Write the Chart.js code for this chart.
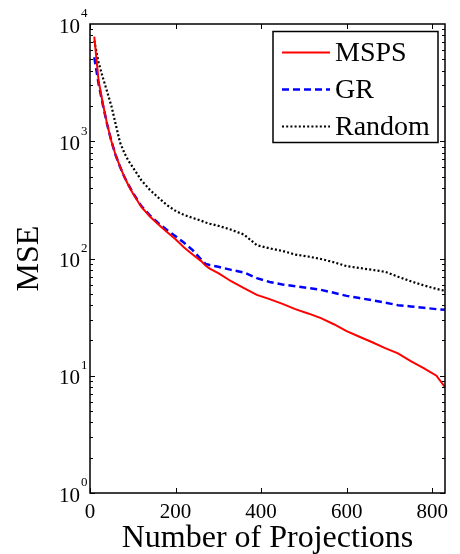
<!DOCTYPE html>
<html>
<head>
<meta charset="utf-8">
<script src="https://cdn.jsdelivr.net/npm/chart.js@4/dist/chart.umd.min.js"></script>
<style>
  html, body { margin: 0; padding: 0; background: #fff; }
  #wrap { width: 460px; height: 554px; }
</style>
</head>
<body>
<div id="wrap"><canvas id="mseChart"></canvas></div>
<script>
// number of projections (x) and MSE
var projections = [10, 20, 30, 40, 50, 60, 70, 80, 90, 100, 120, 140, 160, 180, 200, 220, 240, 260, 270, 280, 300,
  330, 360, 390, 420, 450, 480, 510, 540, 570, 600, 630, 660, 690, 720, 750, 780, 810, 830];
var mspsMse = [7800, 3300, 2100, 1400, 1000, 760, 610, 500, 420, 360, 275, 228, 195, 168, 146, 124, 108, 95, 87, 82, 75,
  64, 56, 49, 45, 41, 37, 34, 31, 27.5, 24, 21.5, 19.3, 17.2, 15.5, 13.3, 11.6, 10, 8];
var grMse = [5200, 3100, 2050, 1400, 1000, 760, 610, 500, 425, 365, 280, 233, 200, 175, 155, 136, 118, 98, 90, 88, 85,
  80, 76, 68, 63, 60, 58, 56, 54, 51, 48, 46, 44, 42, 40, 39, 38, 37, 36.5];
var randomMse = [7200, 4700, 3500, 2650, 2000, 1400, 980, 800, 680, 600, 465, 385, 330, 285, 255, 235, 222, 210, 203, 198, 190,
  176, 160, 130, 122, 116, 108, 104, 99, 93, 86, 83, 80, 77, 70, 64, 59, 55, 53];
var xTicks = [0, 200, 400, 600, 800];
var yTicks = [1, 10, 100, 1000, 10000];

var FONT = "'Liberation Serif', 'Times New Roman', serif";

function toPoints(values) {
  return projections.map(function (x, i) { return { x: x, y: values[i] }; });
}

// MATLAB style box, inward ticks, 10^n labels and boxed legend
var matlabAxes = {
  id: "matlabAxes",
  afterDraw: function (chart) {
    var ctx = chart.ctx;
    var a = chart.chartArea;
    var xs = chart.scales.x;
    var ys = chart.scales.y;
    ctx.save();
    ctx.strokeStyle = "#000";
    ctx.lineWidth = 1.5;
    ctx.strokeRect(a.left, a.top, a.right - a.left, a.bottom - a.top);

    ctx.lineWidth = 1;
    ctx.beginPath();
    xTicks.forEach(function (v) {
      var px = Math.round(xs.getPixelForValue(v)) + 0.5;
      ctx.moveTo(px, a.bottom); ctx.lineTo(px, a.bottom - 5);
      ctx.moveTo(px, a.top); ctx.lineTo(px, a.top + 5);
    });
    for (var k = 0; k < 4; k++) {
      for (var m = 1; m <= 9; m++) {
        var py = Math.round(ys.getPixelForValue(m * Math.pow(10, k))) + 0.5;
        var len = m === 1 ? 5 : 3;
        ctx.moveTo(a.left, py); ctx.lineTo(a.left + len, py);
        ctx.moveTo(a.right, py); ctx.lineTo(a.right - len, py);
      }
    }
    ctx.stroke();

    // y tick labels 10^n
    ctx.fillStyle = "#000";
    yTicks.forEach(function (v) {
      var py = ys.getPixelForValue(v);
      ctx.font = "21px " + FONT;
      ctx.textAlign = "right";
      ctx.textBaseline = "middle";
      ctx.fillText("10", a.left - 10, py + 3);
      ctx.font = "13px " + FONT;
      ctx.textAlign = "left";
      ctx.fillText(String(Math.round(Math.log10(v))), a.left - 9, py - 10);
    });

    // legend
    var bw = 165, bh = 111;
    var bx = a.right - 7 - bw, by = a.top + 7.5;
    ctx.fillStyle = "#fff";
    ctx.fillRect(bx, by, bw, bh);
    ctx.lineWidth = 1.5;
    ctx.strokeStyle = "#000";
    ctx.strokeRect(bx, by, bw, bh);
    chart.data.datasets.forEach(function (ds, i) {
      var ry = by + 21 + i * 37;
      ctx.strokeStyle = ds.borderColor;
      ctx.lineWidth = ds.borderWidth;
      ctx.setLineDash(ds.borderDash || []);
      ctx.beginPath();
      ctx.moveTo(bx + 9, ry);
      ctx.lineTo(bx + 57, ry);
      ctx.stroke();
      ctx.setLineDash([]);
      ctx.fillStyle = "#000";
      ctx.font = "28px " + FONT;
      ctx.textAlign = "left";
      ctx.textBaseline = "middle";
      ctx.fillText(ds.label, bx + 62, ry + 1);
    });
    ctx.restore();
  }
};

new Chart(document.getElementById("mseChart"), {
  type: "line",
  data: {
    datasets: [
      {
        label: "MSPS",
        data: toPoints(mspsMse),
        borderColor: "#ff0000",
        borderWidth: 2,
        pointRadius: 0,
        tension: 0,
        fill: false,
      },
      {
        label: "GR",
        data: toPoints(grMse),
        borderColor: "#0000ff",
        borderWidth: 2.5,
        borderDash: [7, 4],
        pointRadius: 0,
        tension: 0,
        fill: false,
      },
      {
        label: "Random",
        data: toPoints(randomMse),
        borderColor: "#000000",
        borderWidth: 2.2,
        borderDash: [2, 2.2],
        pointRadius: 0,
        tension: 0,
        fill: false,
      },
    ],
  },
  options: {
    responsive: true,
    maintainAspectRatio: false,
    animation: false,
    layout: { padding: { left: 0, right: 15, top: 24, bottom: 0 } },
    plugins: { legend: { display: false }, tooltip: { enabled: false } },
    scales: {
      x: {
        type: "linear",
        min: 0,
        max: 830,
        grid: { display: false, drawTicks: false },
        border: { display: false },
        afterBuildTicks: function (scale) {
          scale.ticks = xTicks.map(function (v) { return { value: v }; });
        },
        ticks: {
          color: "#000",
          padding: 9,
          maxRotation: 0,
          font: { family: FONT, size: 21, lineHeight: 1 },
        },
        title: {
          display: true,
          text: "Number of Projections",
          color: "#000",
          padding: { top: 0, bottom: 8 },
          font: { family: FONT, size: 32, lineHeight: 0.4375 },
        },
      },
      y: {
        type: "logarithmic",
        min: 1,
        max: 10000,
        grid: { display: false, drawTicks: false },
        border: { display: false },
        ticks: { display: false },
        afterBuildTicks: function (scale) {
          scale.ticks = yTicks.map(function (v) { return { value: v }; });
        },
        afterFit: function (scale) {
          scale.width = 90;
        },
        title: {
          display: true,
          text: "MSE",
          color: "#000",
          padding: { top: 14, bottom: 0 },
          font: { family: FONT, size: 32, lineHeight: 1 },
        },
      },
    },
  },
  plugins: [matlabAxes],
});
</script>
</body>
</html>
